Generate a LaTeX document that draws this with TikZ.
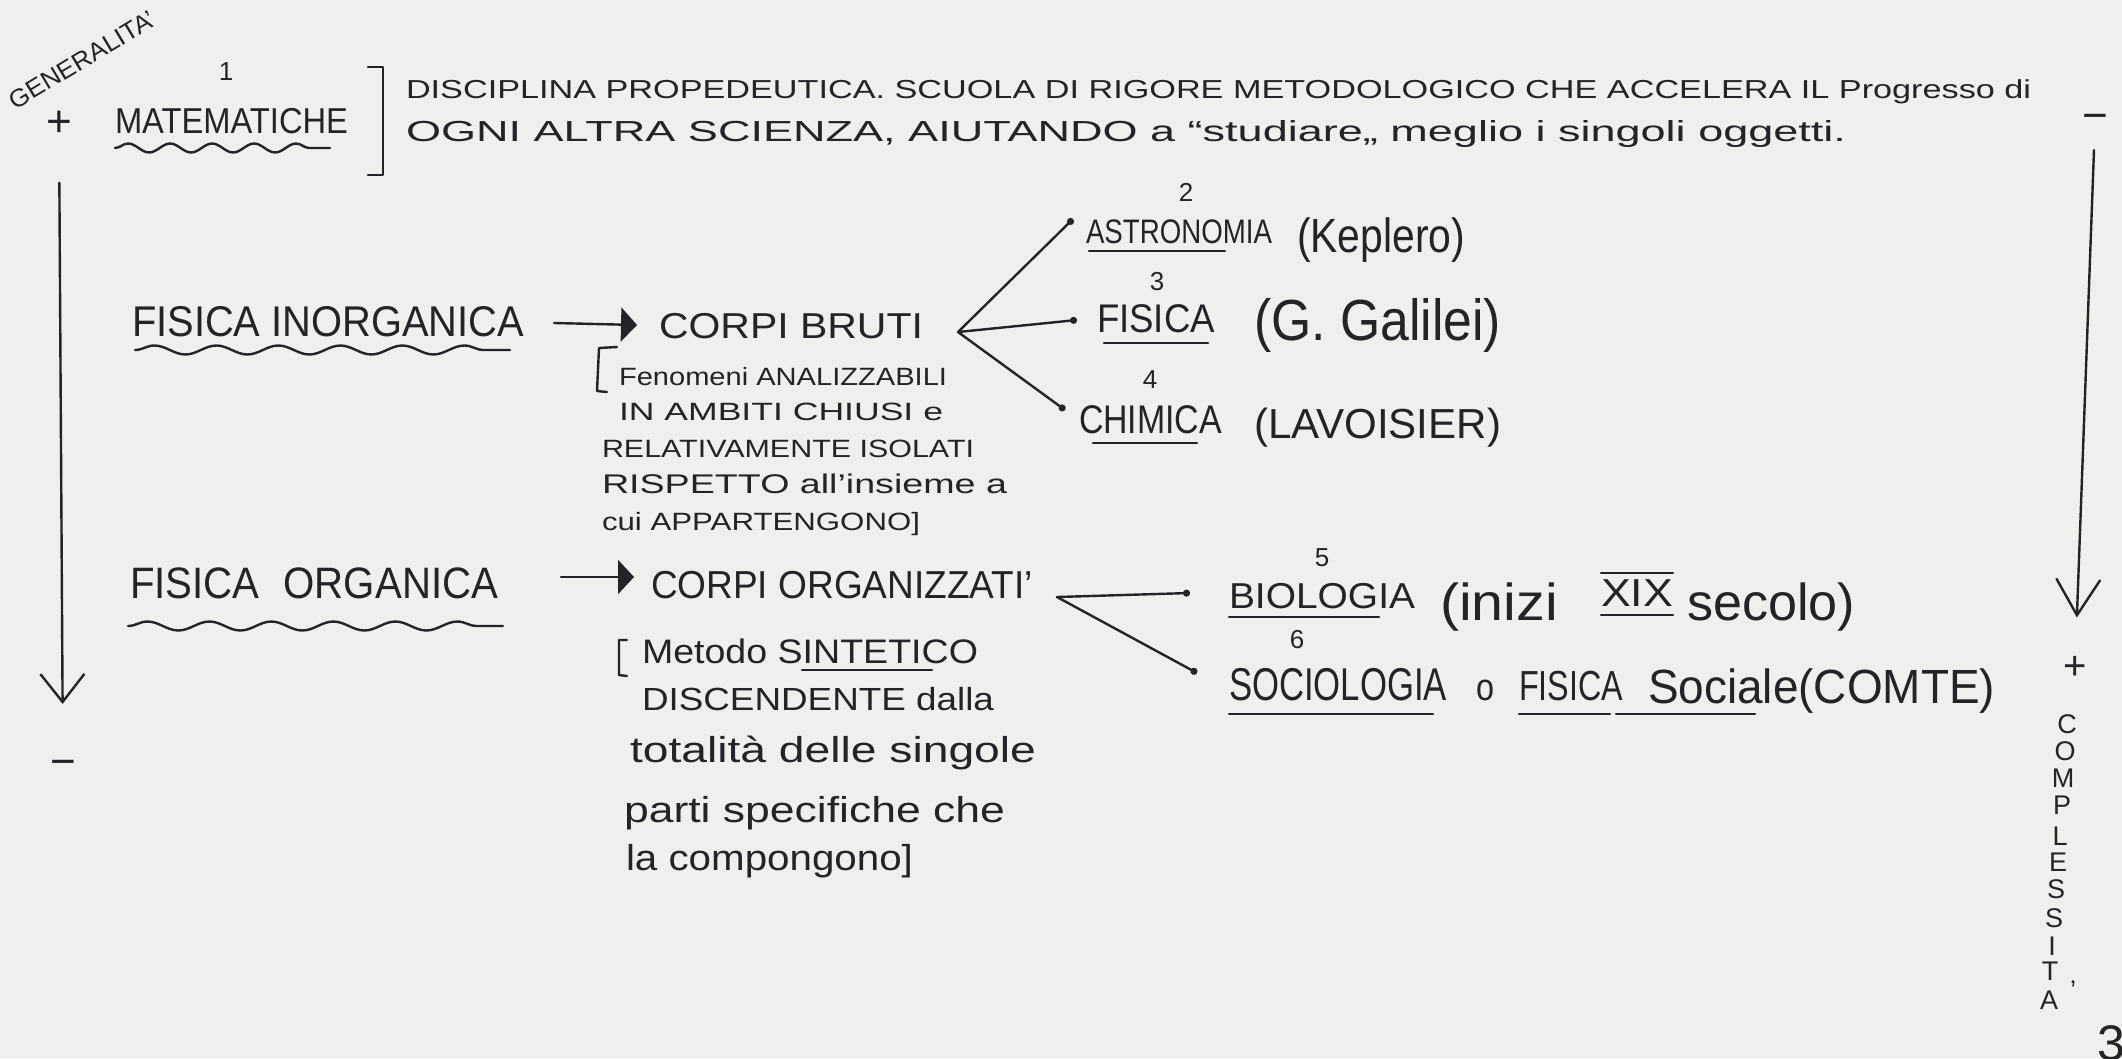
\documentclass[tikz,border=0pt]{standalone}
\usepackage{fontspec}
\setmainfont{Liberation Sans}
\usepackage{graphicx}
\usetikzlibrary{arrows.meta,decorations.pathmorphing}
\definecolor{paper}{RGB}{239,239,237}
\definecolor{ink}{RGB}{36,36,40}
\newcommand{\hw}[3]{\resizebox{#1pt}{\height}{\fontsize{#2pt}{#2pt}\selectfont #3}}
\newcommand{\fs}[1]{\fontsize{#1pt}{#1pt}\selectfont}
\begin{document}
\begin{tikzpicture}[x=1pt,y=-1pt,
  txt/.style={inner sep=0pt,outer sep=0pt,anchor=base west,text=ink},
  ctr/.style={inner sep=0pt,outer sep=0pt,anchor=center,text=ink},
  pen/.style={draw=ink,line width=2.4pt,line cap=round,line join=round},
  uline/.style={draw=ink,line width=2.2pt,line cap=round},
  wavy/.style={pen,decorate,decoration={snake,segment length=#1,amplitude=4.5pt}},
  tri/.style={pen,-{Triangle[length=16pt,width=34pt]}},
  dotend/.style={pen,-{Circle[length=7pt]}},
  vee/.style={pen,-{Straight Barb[length=#1,width=44pt]}},
  numb/.style={ctr,font=\fs{26}},
  letter/.style={ctr,font=\fs{27}}
]
\fill[paper] (0,0) rectangle (2122,1058);
\useasboundingbox (0,0) rectangle (2122,1058);

% ---------- top block ----------
\node[ctr,rotate=31] (gen) at (82,60) {\hw{166}{25}{GENERALITA'}};
\node[ctr] (plusA) at (59,124) {\fs{44}+};
\node[numb] (n1) at (226,72) {1};
\node[txt] (mat) at (115,133) {\hw{233}{36}{MATEMATICHE}};
\draw[wavy=42pt] (115,148) -- (330,148);
\draw[pen] (368,67) -- (383,67) -- (383,175) -- (368,175);
\node[txt] (l1) at (406,98) {\hw{1625}{26}{DISCIPLINA PROPEDEUTICA. SCUOLA DI RIGORE METODOLOGICO CHE ACCELERA IL Progresso di}};
\node[txt] (l2) at (406,141) {\hw{1440}{29}{OGNI ALTRA SCIENZA, AIUTANDO a “studiare„ meglio i singoli oggetti.}};

% ---------- left axis ----------
\node[ctr] (minusL) at (63,768) {\fs{44}−};
\draw[vee=28pt,shorten <=46pt,shorten >=56pt] (plusA) -- (minusL);

% ---------- right axis ----------
\node[ctr] (minusR) at (2095,122) {\fs{44}−};
\node[ctr] (plusR) at (2075,668) {\fs{40}+};
\draw[vee=36pt,shorten <=20pt,shorten >=39pt] (minusR) -- (plusR);
\foreach \l/\xx/\yy [count=\i] in {C/2067/724,O/2065/751,M/2063/778,P/2062/805,L/2060/836,E/2058/862,S/2056/889,S/2054/918,I/2052/946,T/2050/971,A/2049/1000}
  \node[letter] (cpx\i) at (\xx,\yy) {\l};
\node[ctr] (cpxacc) at (2073,990) {\fs{27}'};
\node[txt] (pg) at (2097,1060) {\fs{50}3};

% ---------- inorganic ----------
\node[txt] (inorg) at (132,336) {\hw{392}{43}{FISICA INORGANICA}};
\draw[wavy=62pt] (135,350) -- (510,350);
\coordinate (a1s) at (554,323);
\coordinate (a1e) at (637,325);
\draw[tri] (a1s) -- (a1e);
\node[txt] (bruti) at (659,338) {\hw{264}{36}{CORPI BRUTI}};
\draw[pen] (617,347) -- (599,348) -- (597,391) -- (607,392);
\node[txt] (nb1) at (619,385) {\hw{328}{25}{Fenomeni ANALIZZABILI}};
\node[txt] (nb2) at (619,420) {\hw{324}{25}{IN AMBITI CHIUSI e}};
\node[txt] (nb3) at (602,457) {\hw{372}{25}{RELATIVAMENTE ISOLATI}};
\node[txt] (nb4) at (602,493) {\hw{405}{27}{RISPETTO all'insieme a}};
\node[txt] (nb5) at (602,530) {\hw{318}{25}{cui APPARTENGONO]}};

\coordinate (apexB) at (958,332);
\coordinate (eAst) at (1073,219);
\coordinate (eFis) at (1077,320);
\coordinate (eChi) at (1065,410);
\draw[dotend] (apexB) -- (eAst);
\draw[dotend] (apexB) -- (eFis);
\draw[dotend] (apexB) -- (eChi);

\node[numb] (n2) at (1186,192) {2};
\node[txt] (astro) at (1086,243) {\hw{186}{34}{ASTRONOMIA}};
\node[txt] (kep) at (1297,252) {\hw{168}{48}{(Keplero)}};
\draw[uline] (1089,251) -- (1225,251);
\node[numb] (n3) at (1157,282) {3};
\node[txt] (fis1) at (1097,332) {\hw{118}{40}{FISICA}};
\node[txt] (gal) at (1254,340) {\hw{247}{58}{(G. Galilei)}};
\draw[uline] (1104,343) -- (1208,343);
\node[numb] (n4) at (1150,380) {4};
\node[txt] (chim) at (1079,433) {\hw{143}{40}{CHIMICA}};
\node[txt] (lav) at (1254,438) {\hw{247}{42}{(LAVOISIER)}};
\draw[uline] (1093,443) -- (1197,443);

% ---------- organic ----------
\node[txt] (org) at (130,598) {\hw{368}{44}{FISICA\hspace{0.6em}ORGANICA}};
\draw[wavy=62pt] (128,626) -- (503,626);
\coordinate (a2s) at (561,577);
\coordinate (a2e) at (634,577);
\draw[tri] (a2s) -- (a2e);
\node[txt] (organ) at (651,598) {\hw{382}{39}{CORPI ORGANIZZATI'}};
\draw[pen] (627,640) -- (619,640) -- (619,675) -- (627,676);
\node[txt] (no1) at (642,663) {\hw{336}{34}{Metodo SINTETICO}};
\draw[uline] (802,670) -- (932,670);
\node[txt] (no2) at (642,710) {\hw{352}{32}{DISCENDENTE dalla}};
\node[txt] (no3) at (630,762) {\hw{406}{36}{totalità delle singole}};
\node[txt] (no4) at (624,822) {\hw{381}{36}{parti specifiche che}};
\node[txt] (no5) at (626,870) {\hw{287}{36}{la compongono]}};

\coordinate (apexO) at (1057,597);
\coordinate (eBio) at (1190,593);
\coordinate (eSoc) at (1197,673);
\draw[dotend] (apexO) -- (eBio);
\draw[dotend] (apexO) -- (eSoc);

\node[numb] (n5) at (1322,558) {5};
\node[txt] (bio) at (1229,608) {\hw{186}{36}{BIOLOGIA}};
\draw[uline] (1229,617) -- (1379,617);
\node[txt] (ini) at (1440,620) {\hw{118}{52}{(inizi}};
\node[txt] (xix) at (1601,606) {\hw{72}{39}{XIX}};
\draw[uline] (1601,573) -- (1673,573);
\draw[uline] (1601,615) -- (1673,615);
\node[txt] (sec) at (1687,620) {\hw{168}{52}{secolo)}};
\node[numb] (n6) at (1297,640) {6};
\node[txt] (soc) at (1229,700) {\hw{218}{46}{SOCIOLOGIA}};
\node[txt] (oo) at (1476,700) {\hw{18}{38}{o}};
\node[txt] (fis2) at (1519,700) {\hw{104}{42}{FISICA}};
\node[txt] (socl) at (1648,703) {\hw{347}{48}{Sociale(COMTE)}};
\draw[uline] (1229,714) -- (1433,714);
\draw[uline] (1519,714) -- (1610,714);
\draw[uline] (1616,714) -- (1755,714);
\end{tikzpicture}
\end{document}
